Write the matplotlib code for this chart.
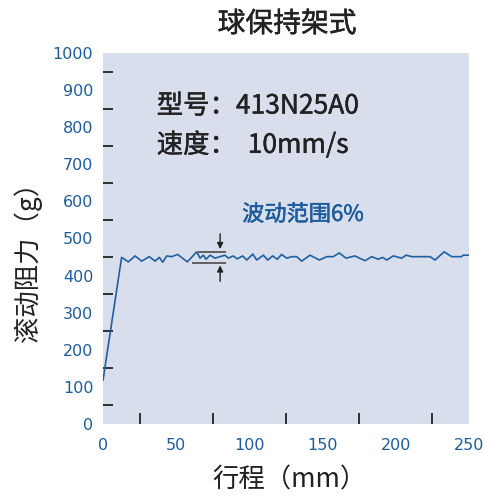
import matplotlib.pyplot as plt
import matplotlib.patheffects as pe

plt.rcParams['font.family'] = ['Noto Sans CJK SC', 'DejaVu Sans']

travel = [0, 12.7, 17.3, 21.9, 26.4, 31.6, 35.5, 38.5, 40.8, 43.5,
          46.9, 51, 57.6, 64, 66.3, 68.5, 70.4, 73.1, 76.5, 79.9,
          83.3, 85.6, 89, 91.7, 95.4, 98.2, 102.3, 105, 109.5, 112.5,
          115.9, 119, 122, 125.5, 128.9, 132.3, 135.7, 141.4, 147.8, 152.8,
          157.3, 161.4, 166, 172, 179, 183.5, 188, 191, 193.8, 198.3,
          204, 207, 210.9, 223.4, 226.8, 233, 238.2, 245, 246, 249.5]
force = [118, 449, 437, 453, 439, 451, 439, 449, 436, 453,
         451, 457, 437, 464, 447, 455, 444, 455, 447, 451,
         455, 447, 453, 445, 453, 442, 458, 442, 455, 442,
         453, 444, 457, 447, 451, 451, 439, 455, 442, 451,
         451, 461, 447, 453, 440, 451, 444, 449, 442, 453,
         447, 455, 451, 451, 442, 464, 451, 451, 455, 455]

band_hi = 464
band_lo = 435

blue = '#1c5c9c'
dark = '#222222'

fig = plt.figure(figsize=(4.85, 4.97), dpi=100)
ax = fig.add_axes([0.2124, 0.1469, 0.7546, 0.7465])
ax.set_facecolor('#d8deeb')
for s in ax.spines.values():
    s.set_visible(False)

ax.plot(travel, force, color='#2060a0', lw=1.2)

ax.set_xlim(0, 250)
ax.set_ylim(0, 1000)

# tick marks drawn inside, labels separately
ax.set_xticks(range(0, 251, 50))
ax.set_xticklabels([str(v) for v in range(0, 251, 50)], color=blue,
                   fontsize=11.5, family='DejaVu Sans')
ax.set_xticks(range(25, 250, 25), minor=True)
ax.tick_params(axis='x', which='major', length=0, pad=10)
ax.tick_params(axis='x', which='minor', direction='in', length=8, width=1.3, color=dark)

ax.set_yticks(range(0, 1001, 100))
ax.set_yticklabels([str(v) for v in range(0, 1001, 100)], color=blue,
                   fontsize=11.5, family='DejaVu Sans')
ax.set_yticks(range(50, 1000, 50), minor=True)
ax.tick_params(axis='y', which='major', length=0, pad=7)
ax.tick_params(axis='y', which='minor', direction='in', length=7, width=1.3, color=dark)

# fluctuation band marker
ax.hlines(band_hi, 65, 84, color='#555555', lw=1.3)
ax.hlines(band_lo, 61, 84, color='#555555', lw=1.3)
ax.annotate('', xy=(80, band_hi), xytext=(80, 520),
            arrowprops=dict(arrowstyle='-|>', color=dark, lw=1, mutation_scale=9))
ax.annotate('', xy=(80, band_lo), xytext=(80, 377),
            arrowprops=dict(arrowstyle='-|>', color=dark, lw=1, mutation_scale=9))

thick = [pe.withStroke(linewidth=0.35, foreground=dark)]
thick_b = [pe.withStroke(linewidth=0.35, foreground=blue)]

ax.text(36.7, 857, '型号：413N25A0', fontsize=19, color=dark, va='center',
        path_effects=thick)
ax.text(36.7, 752, '速度：  10mm/s', fontsize=19, color=dark, va='center',
        path_effects=thick)
ax.text(95, 565, '波动范围6%', fontsize=16, color=blue, va='center',
        path_effects=thick_b)

fig.text(287 / 485, 1 - 24 / 497, '球保持架式', fontsize=20, color=dark,
         ha='center', va='center', path_effects=thick)
fig.text(28 / 485, 1 - 255 / 497, '滚动阻力（g）', fontsize=19, color=dark,
         ha='center', va='center', rotation=90)
fig.text(289 / 485, 1 - 480 / 497, '行程（mm）', fontsize=19, color=dark,
         ha='center', va='center')

plt.savefig('out.png', dpi=100)
